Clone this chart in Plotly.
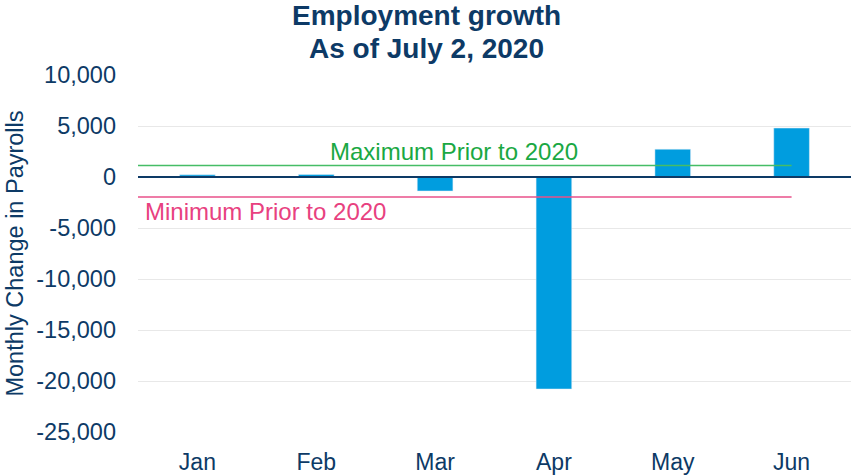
import plotly.graph_objects as go

months = ["Jan", "Feb", "Mar", "Apr", "May", "Jun"]
payroll_change = [214, 251, -1373, -20787, 2725, 4800]
max_prior = 1118
min_prior = -1959
ytick_vals = [10000, 5000, 0, -5000, -10000, -15000, -20000, -25000]
ytick_text = ["10,000", "5,000", "0", "-5,000", "-10,000", "-15,000", "-20,000", "-25,000"]
title_lines = ["Employment growth", "As of July 2, 2020"]

NAVY = "#0d3a66"
BAR = "#009ddf"
GREEN = "#45bd66"
GREEN_TXT = "#1aa843"
PINK = "#e8508a"
PINK_TXT = "#e8417f"
FONT = "Liberation Sans, Arial, sans-serif"

W, H = 852, 475
ML, MR, MT, MB = 138, 1, 75, 43
PH = H - MT - MB
PW = W - ML - MR


def py(pix):
    """paper y for a pixel row measured from the top of the figure"""
    return (H - MB - pix) / PH


def px(pix):
    return (pix - ML) / PW


fig = go.Figure()
fig.add_trace(go.Bar(x=months, y=payroll_change, marker_color=BAR, width=0.3,
                     showlegend=False, hoverinfo="skip"))

# reference lines
fig.add_shape(type="line", xref="x", yref="y", x0=-0.5, x1=5.0, y0=max_prior, y1=max_prior,
              line=dict(color=GREEN, width=1.5), layer="above")
fig.add_shape(type="line", xref="x", yref="y", x0=-0.5, x1=5.0, y0=min_prior, y1=min_prior,
              line=dict(color=PINK, width=1.5), layer="above")
fig.add_shape(type="line", xref="x", yref="y", x0=-0.5, x1=5.5, y0=0, y1=0,
              line=dict(color=NAVY, width=2), layer="above")

fig.add_annotation(x=2.16, y=max_prior, xref="x", yref="y", text="Maximum Prior to 2020",
                   showarrow=False, yanchor="bottom", yshift=-1,
                   font=dict(family=FONT, size=24, color=GREEN_TXT))
fig.add_annotation(x=-0.433, y=min_prior, xref="x", yref="y", text="Minimum Prior to 2020",
                   showarrow=False, xanchor="left", yanchor="top", yshift=1, xshift=-3,
                   font=dict(family=FONT, size=24, color=PINK_TXT))

# two-line title
for line, pix in zip(title_lines, [16, 48]):
    fig.add_annotation(x=px(426), xref="paper", xanchor="center",
                       y=py(pix), yref="paper", yanchor="middle",
                       text="<b>" + line + "</b>", showarrow=False,
                       font=dict(family=FONT, size=28, color=NAVY))

fig.update_layout(
    width=W, height=H,
    margin=dict(l=ML, r=MR, t=MT, b=MB),
    paper_bgcolor="white", plot_bgcolor="white",
    font=dict(family=FONT, color=NAVY),
    bargap=0.7,
)
fig.update_xaxes(showgrid=False, showline=False, zeroline=False, ticks="",
                 tickfont=dict(family=FONT, size=23, color=NAVY), ticklabelstandoff=14,
                 range=[-0.5, 5.5])
fig.update_yaxes(range=[-25000, 10000], tickvals=ytick_vals, ticktext=ytick_text,
                 showgrid=True, gridcolor="#e8e8e8", gridwidth=1, zeroline=False,
                 showline=False, ticks="", ticklabelstandoff=21,
                 tickfont=dict(family=FONT, size=23.5, color=NAVY),
                 title=dict(text="Monthly Change in Payrolls", standoff=6,
                            font=dict(family=FONT, size=23.5, color=NAVY)))

fig.write_html("out.html", config={"displayModeBar": False},
               post_script="document.body.style.margin='0';document.body.style.overflow='hidden';")
